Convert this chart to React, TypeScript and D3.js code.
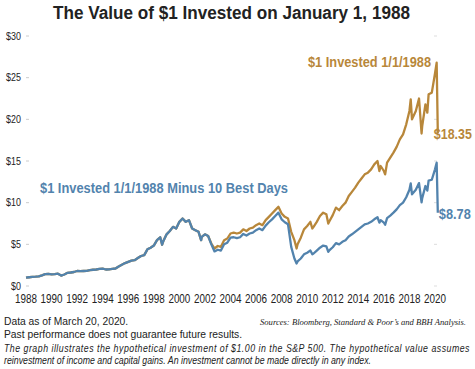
import React from 'react';
import * as d3 from 'd3';

// decimal years
const dates = [
  1988.0, 1988.25, 1988.5, 1988.75, 1989.0, 1989.25, 1989.5, 1989.75,
  1990.0, 1990.25, 1990.5, 1990.75, 1991.0, 1991.25, 1991.5, 1991.75,
  1992.0, 1992.25, 1992.5, 1992.75, 1993.0, 1993.25, 1993.5, 1993.75,
  1994.0, 1994.25, 1994.5, 1994.75, 1995.0, 1995.25, 1995.5, 1995.75,
  1996.0, 1996.25, 1996.5, 1996.75, 1997.0, 1997.25, 1997.5, 1997.75,
  1998.0, 1998.25, 1998.5, 1998.65, 1998.75, 1999.0, 1999.25, 1999.5, 1999.75,
  2000.0, 2000.25, 2000.5, 2000.75, 2001.0, 2001.25, 2001.5, 2001.7, 2001.75,
  2002.0, 2002.25, 2002.5, 2002.75, 2003.0, 2003.25, 2003.5, 2003.75,
  2004.0, 2004.25, 2004.5, 2004.75, 2005.0, 2005.25, 2005.5, 2005.75,
  2006.0, 2006.25, 2006.5, 2006.75, 2007.0, 2007.25, 2007.5, 2007.75,
  2008.0, 2008.25, 2008.5, 2008.75, 2009.0, 2009.17, 2009.25, 2009.5, 2009.75,
  2010.0, 2010.25, 2010.4, 2010.5, 2010.75, 2011.0, 2011.25, 2011.5, 2011.65, 2011.75,
  2012.0, 2012.25, 2012.5, 2012.75, 2013.0, 2013.25, 2013.5, 2013.75,
  2014.0, 2014.25, 2014.5, 2014.75, 2015.0, 2015.25, 2015.5, 2015.65, 2015.75,
  2016.0, 2016.1, 2016.25, 2016.5, 2016.75, 2017.0, 2017.25, 2017.5, 2017.75,
  2018.0, 2018.1, 2018.2, 2018.5, 2018.75, 2018.95, 2019.0, 2019.25, 2019.4, 2019.5, 2019.75,
  2020.0, 2020.13, 2020.22,
];

// $1 invested 1/1/1988
const invested = [
  1.0, 1.05, 1.1, 1.12, 1.15, 1.28, 1.42, 1.45,
  1.4, 1.42, 1.48, 1.25, 1.38, 1.58, 1.62, 1.68,
  1.8, 1.78, 1.8, 1.82, 1.9, 1.95, 1.98, 2.05,
  2.08, 1.98, 2.0, 2.05, 2.1, 2.35, 2.55, 2.75,
  2.9, 3.05, 3.1, 3.35, 3.6, 3.7, 4.4, 4.6,
  4.85, 5.5, 5.85, 4.95, 5.4, 6.2, 6.6, 7.1, 6.9,
  7.7, 8.1, 7.7, 7.9, 6.9, 6.7, 6.5, 5.5, 5.9,
  6.2, 6.0, 5.1, 4.5, 4.8, 4.7, 5.5, 5.7,
  6.3, 6.4, 6.3, 6.4, 6.8, 6.6, 6.9, 7.0,
  7.3, 7.5, 7.3, 7.9, 8.3, 8.7, 9.1, 9.5,
  8.7, 8.3, 8.1, 6.5, 5.5, 4.5, 5.0, 5.8, 6.8,
  7.2, 7.7, 6.9, 7.1, 7.7, 8.4, 8.8, 8.6, 7.5, 7.8,
  8.5, 9.4, 9.1, 9.6, 10.0, 10.8, 11.3, 11.8,
  12.4, 12.9, 13.4, 13.6, 14.0, 14.6, 15.0, 13.8, 14.4,
  13.8, 13.4, 14.8, 15.4, 16.0, 16.7, 17.6, 18.2, 19.4,
  21.0, 22.4, 20.0, 21.0, 22.5, 18.3, 19.2, 21.8, 20.8, 23.0, 23.2,
  25.5, 26.8, 18.35,
];

// $1 invested 1/1/1988 minus 10 best days
const minusBest = [
  1.0, 1.05, 1.1, 1.12, 1.15, 1.28, 1.42, 1.45,
  1.4, 1.42, 1.48, 1.25, 1.38, 1.58, 1.62, 1.68,
  1.8, 1.78, 1.8, 1.82, 1.9, 1.95, 1.98, 2.05,
  2.08, 1.98, 2.0, 2.05, 2.1, 2.35, 2.55, 2.75,
  2.9, 3.05, 3.1, 3.35, 3.6, 3.7, 4.4, 4.6,
  4.85, 5.5, 5.85, 4.95, 5.4, 6.2, 6.6, 7.1, 6.9,
  7.7, 8.1, 7.7, 7.9, 6.9, 6.7, 6.5, 5.5, 5.9,
  6.2, 6.0, 5.0, 4.15, 4.35, 4.25, 5.0, 5.2,
  5.8, 5.85, 5.75, 5.85, 6.25, 6.05, 6.3, 6.4,
  6.7, 6.9, 6.7, 7.25, 7.65, 8.0, 8.4, 8.8,
  8.0, 7.65, 7.4, 4.7, 3.3, 2.7, 2.95, 3.3, 3.8,
  4.0, 4.25, 3.8, 3.9, 4.25, 4.6, 4.85, 4.75, 4.1, 4.3,
  4.65, 5.15, 5.0, 5.3, 5.5, 5.95, 6.2, 6.5,
  6.8, 7.1, 7.4, 7.5, 7.7, 8.0, 8.25, 7.6, 7.9,
  7.6, 7.35, 8.15, 8.45, 8.8, 9.2, 9.7, 10.0, 10.65,
  11.55, 12.3, 11.0, 11.55, 12.35, 10.05, 10.55, 12.0, 11.45, 12.65, 12.75,
  14.0, 14.8, 8.78,
];

const yTicks = [0, 5, 10, 15, 20, 25, 30];
const xTicks = d3.range(1988, 2021, 2);

const GOLD = '#b8873a';
const BLUE = '#5283ad';
const SANS = '"Liberation Sans", Arial, sans-serif';

// condensed text: the reference uses a narrow face, so squeeze horizontally
const CText = ({ x, y, sx, anchor = 'start', children, ...rest }: any) => (
  <text transform={`translate(${x},${y}) scale(${sx},1)`} textAnchor={anchor} fontFamily={SANS} {...rest}>
    {children}
  </text>
);

const App = () => {
  const width = 475;
  const height = 369;

  const x = d3.scaleLinear().domain([1988, 2020]).range([26, 435]);
  const y = d3.scaleLinear().domain([0, 30]).range([286, 36]);

  const line = d3
    .line<number>()
    .x((_, i) => x(dates[i]))
    .y((d) => y(d));

  const last = dates.length - 1;

  return (
    <svg width={width} height={height} style={{ position: 'absolute', left: 0, top: 0 }}>
      <rect width={width} height={height} fill="#fff" />
      <text
        x={53}
        y={19}
        textLength={357}
        lengthAdjust="spacingAndGlyphs"
        fontFamily={SANS}
        fontWeight="bold"
        fontSize={18}
        fill="#222"
      >
        The Value of $1 Invested on January 1, 1988
      </text>

      {yTicks.map((t) => (
        <g key={t}>
          <CText x={21} y={y(t) + 3.8} sx={0.85} anchor="end" fontSize={10.5} fill="#222">
            ${t}
          </CText>
          <line x1={26} x2={29} y1={y(t)} y2={y(t)} stroke="#ccc" />
          <line x1={434} x2={437} y1={y(t)} y2={y(t)} stroke="#ddd" />
        </g>
      ))}

      {xTicks.map((t) => (
        <CText key={t} x={x(t)} y={303} sx={0.76} anchor="middle" fontSize={13} fill="#222">
          {t}
        </CText>
      ))}

      <path d={line(invested) ?? ''} fill="none" stroke={GOLD} strokeWidth={2.3} strokeLinejoin="round" />
      <path d={line(minusBest) ?? ''} fill="none" stroke={BLUE} strokeWidth={2.3} strokeLinejoin="round" />

      <text x={308} y={67} textLength={123} lengthAdjust="spacingAndGlyphs" fontFamily={SANS} fontWeight="bold" fontSize={14} fill={GOLD}>
        $1 Invested 1/1/1988
      </text>
      <text x={40} y={193} textLength={248} lengthAdjust="spacingAndGlyphs" fontFamily={SANS} fontWeight="bold" fontSize={14} fill={BLUE}>
        $1 Invested 1/1/1988 Minus 10 Best Days
      </text>
      <text x={x(dates[last]) - 4} y={y(invested[last]) + 6} textLength={38} lengthAdjust="spacingAndGlyphs" fontFamily={SANS} fontWeight="bold" fontSize={14} fill={GOLD}>
        ${invested[last].toFixed(2)}
      </text>
      <text x={x(dates[last]) + 1} y={y(minusBest[last]) + 6} textLength={32} lengthAdjust="spacingAndGlyphs" fontFamily={SANS} fontWeight="bold" fontSize={14} fill={BLUE}>
        ${minusBest[last].toFixed(2)}
      </text>

      <g fontFamily={SANS} fontSize={10.3} fill="#222">
        <text x={4} y={325}>Data as of March 20, 2020.</text>
        <text x={4} y={338}>Past performance does not guarantee future results.</text>
      </g>
      <g fontSize={10} fill="#222" fontStyle="italic">
        <CText x={4} y={352} sx={0.88} textLength={529} lengthAdjust="spacing">
          The graph illustrates the hypothetical investment of $1.00 in the S&amp;P 500. The hypothetical value assumes
        </CText>
        <CText x={4} y={364} sx={0.88}>
          reinvestment of income and capital gains. An investment cannot be made directly in any index.
        </CText>
      </g>
      <text x={466} y={325} textAnchor="end" fontFamily='"Liberation Serif", serif' fontStyle="italic" fontSize={8.6} fill="#222">
        Sources: Bloomberg, Standard &amp; Poor’s and BBH Analysis.
      </text>
    </svg>
  );
};

export default App;
